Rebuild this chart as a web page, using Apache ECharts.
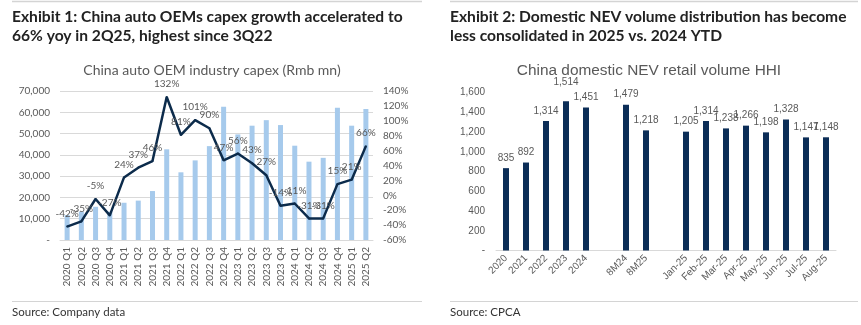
<!DOCTYPE html>
<html>
<head>
<meta charset="utf-8">
<script src="https://cdn.jsdelivr.net/npm/echarts@6/dist/echarts.min.js"></script>
<style>
  html, body { margin: 0; padding: 0; background: #fff; }
  #chart { width: 861px; height: 325px; }
</style>
</head>
<body>
<div id="chart"></div>
<script>
// Exhibit 1: quarterly capex (bars, Rmb mn) and yoy growth (line, %)
const capexQuarters = ['2020 Q1','2020 Q2','2020 Q3','2020 Q4','2021 Q1','2021 Q2','2021 Q3','2021 Q4',
  '2022 Q1','2022 Q2','2022 Q3','2022 Q4','2023 Q1','2023 Q2','2023 Q3','2023 Q4',
  '2024 Q1','2024 Q2','2024 Q3','2024 Q4','2025 Q1','2025 Q2'];
const capexValues = [11700, 13300, 15600, 13300, 17500, 18500, 23000, 42600,
  31800, 37400, 44100, 62600, 49600, 53700, 56300, 54000,
  44300, 36800, 38600, 62100, 53700, 61500];
const capexYoy = [-42, -35, -5, -27, 24, 37, 46, 132, 81, 101, 90, 47, 56, 43, 27, -14,
  -11, -31, -31, 15, 21, 66];

// Exhibit 2: NEV retail volume HHI (blank slots separate the groups)
const hhiCategories = ['2020','2021','2022','2023','2024','','8M24','8M25','',
  'Jan-25','Feb-25','Mar-25','Apr-25','May-25','Jun-25','Jul-25','Aug-25'];
const hhiValues = [835, 892, 1314, 1514, 1451, null, 1479, 1218, null,
  1205, 1314, 1238, 1266, 1198, 1328, 1147, 1148];

const grey = '#595959';
const leftFont = 'Lato, "Open Sans", sans-serif';
const rightFont = '"Liberation Sans", Arial, sans-serif';
const headFont = 'Lato, "Open Sans", sans-serif';

const fmtThousands = v => v === 0 ? '-' : v.toLocaleString('en-US');

const chart = echarts.init(document.getElementById('chart'), null, { renderer: 'canvas' });

chart.setOption({
  animation: false,
  backgroundColor: '#ffffff',
  graphic: [
    // top and bottom rules
    { type: 'line', shape: { x1: 12, y1: 1.5, x2: 422, y2: 1.5 }, style: { stroke: '#d4d4d4', lineWidth: 1.5 } },
    { type: 'line', shape: { x1: 450, y1: 1.5, x2: 858, y2: 1.5 }, style: { stroke: '#d4d4d4', lineWidth: 1.5 } },
    { type: 'line', shape: { x1: 12, y1: 301.5, x2: 422, y2: 301.5 }, style: { stroke: '#d4d4d4', lineWidth: 1 } },
    { type: 'line', shape: { x1: 450, y1: 301.5, x2: 858, y2: 301.5 }, style: { stroke: '#d4d4d4', lineWidth: 1 } },
    // headings
    { type: 'text', left: 12, top: 7, style: { text: 'Exhibit 1: China auto OEMs capex growth accelerated to\n66% yoy in 2Q25, highest since 3Q22',
        font: 'bold 15.6px ' + headFont, fill: '#222222', lineHeight: 19 } },
    { type: 'text', left: 450, top: 7, style: { text: 'Exhibit 2: Domestic NEV volume distribution has become\nless consolidated in 2025 vs. 2024 YTD',
        font: 'bold 15.6px ' + headFont, fill: '#222222', lineHeight: 19 } },
    // sources
    { type: 'text', left: 12, top: 306, style: { text: 'Source: Company data', font: '11.5px ' + headFont, fill: '#333333' } },
    { type: 'text', left: 450, top: 306, style: { text: 'Source: CPCA', font: '11.5px ' + headFont, fill: '#333333' } },
    // chart titles
    { type: 'text', x: 212, y: 70, style: { text: 'China auto OEM industry capex (Rmb mn)', font: '14px ' + leftFont,
        fill: grey, align: 'center', verticalAlign: 'middle' } },
    { type: 'text', x: 649, y: 71, style: { text: 'China domestic NEV retail volume HHI', font: '15.4px ' + rightFont,
        fill: grey, align: 'center', verticalAlign: 'middle' } }
  ],
  grid: [
    { left: 60, top: 91, width: 313, height: 149 },
    { left: 496, top: 92.7, width: 340, height: 157.8 }
  ],
  xAxis: [
    {
      type: 'category', gridIndex: 0, data: capexQuarters,
      axisLine: { lineStyle: { color: '#d9d9d9' } },
      axisTick: { show: false },
      axisLabel: { rotate: 90, interval: 0, margin: 7, color: grey, fontSize: 10, fontFamily: leftFont }
    },
    {
      type: 'category', gridIndex: 1, data: hhiCategories,
      axisLine: { lineStyle: { color: '#d9d9d9' } },
      axisTick: { show: false },
      axisLabel: { rotate: 45, interval: 0, margin: 6, color: grey, fontSize: 10, fontFamily: rightFont }
    }
  ],
  yAxis: [
    {
      type: 'value', gridIndex: 0, min: 0, max: 70000, interval: 10000,
      axisLine: { show: false }, axisTick: { show: false },
      splitLine: { lineStyle: { color: '#d9d9d9' } },
      axisLabel: { formatter: fmtThousands, margin: 10, color: grey, fontSize: 10, fontFamily: leftFont }
    },
    {
      type: 'value', gridIndex: 0, position: 'right', min: -60, max: 140, interval: 20,
      axisLine: { show: false }, axisTick: { show: false }, splitLine: { show: false },
      axisLabel: { formatter: v => v + '%', margin: 10, color: grey, fontSize: 10, fontFamily: leftFont }
    },
    {
      type: 'value', gridIndex: 1, min: 0, max: 1600, interval: 200,
      axisLine: { show: false }, axisTick: { show: false }, splitLine: { show: false },
      axisLabel: { formatter: fmtThousands, margin: 11, color: grey, fontSize: 10, fontFamily: rightFont }
    }
  ],
  series: [
    {
      type: 'bar', xAxisIndex: 0, yAxisIndex: 0, data: capexValues,
      barWidth: 5, itemStyle: { color: '#a6caec' }, z: 1
    },
    {
      type: 'line', xAxisIndex: 0, yAxisIndex: 1, data: capexYoy,
      symbol: 'circle', symbolSize: 2, showSymbol: true, showAllSymbol: true,
      itemStyle: { color: '#0c2b4b' },
      lineStyle: { color: '#0c2b4b', width: 2.5 }, z: 3,
      label: { show: true, position: 'top', distance: 7, formatter: p => p.value + '%',
        color: grey, fontSize: 10, fontFamily: leftFont },
      labelLayout: { hideOverlap: false }
    },
    {
      type: 'bar', xAxisIndex: 1, yAxisIndex: 2,
      data: hhiValues.map((v, i) => i === 3
        ? { value: v, label: { distance: 14 } }
        : v),
      barWidth: 6, itemStyle: { color: '#0b2d57' },
      label: { show: true, position: 'top', distance: 5, formatter: p => p.value.toLocaleString('en-US'),
        color: grey, fontSize: 10, fontFamily: rightFont }
    }
  ]
});
</script>
</body>
</html>
